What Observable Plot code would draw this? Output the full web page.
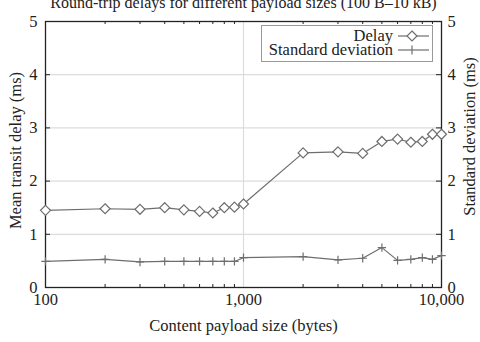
<!DOCTYPE html>
<html><head><meta charset="utf-8">
<script src="https://cdn.jsdelivr.net/npm/d3@7"></script>
<script src="https://cdn.jsdelivr.net/npm/@observablehq/plot@0.6"></script>
<style>
html,body{margin:0;padding:0;background:#fff;}
#wrap{position:relative;width:480px;height:342px;overflow:hidden;}
#legend{position:absolute;left:261px;top:25px;width:172px;height:37px;border:1px solid #999;background:#fff;font-family:"Liberation Serif";font-size:16.5px;color:#222;box-sizing:border-box;}
#legend .row{position:absolute;right:3px;height:14px;display:flex;align-items:center;}
#legend .row span{margin-right:5px;line-height:14px;}
</style></head>
<body>
<div id="wrap"><div id="chart"></div>
<div id="legend">
 <div class="row" style="top:3px"><span>Delay</span><svg width="31" height="12"><line x1="0" y1="6" x2="31" y2="6" stroke="#6e6e6e" stroke-width="1.2"/><path d="M14,1 L19,6 L14,11 L9,6 Z" fill="#fff" stroke="#6e6e6e" stroke-width="1.2"/></svg></div>
 <div class="row" style="top:17px"><span>Standard deviation</span><svg width="31" height="12"><line x1="0" y1="6" x2="31" y2="6" stroke="#6e6e6e" stroke-width="1.2"/><line x1="14" y1="1.5" x2="14" y2="10.5" stroke="#6e6e6e" stroke-width="1.2"/></svg></div>
</div>
</div>
<script>
const sizes = [100,200,300,400,500,600,700,800,900,1000,2000,3000,4000,5000,6000,7000,8000,9000,10000];
const delay = [1.45,1.48,1.47,1.50,1.46,1.43,1.40,1.50,1.51,1.57,2.53,2.55,2.52,2.745,2.79,2.73,2.745,2.88,2.88];
const stddev = [0.49,0.53,0.48,0.49,0.49,0.49,0.49,0.49,0.49,0.56,0.58,0.52,0.55,0.75,0.51,0.53,0.56,0.53,0.60];
const xTicks = [100,1000,10000];
const xMinor = [200,300,400,500,600,700,800,900,2000,3000,4000,5000,6000,7000,8000,9000];
const yTicks = [0,1,2,3,4,5];
const yInner = [1,2,3,4];
const title = "Round-trip delays for different payload sizes (100 B–10 kB)";
const xLabel = "Content payload size (bytes)";
const yLabel = "Mean transit delay (ms)";
const y2Label = "Standard deviation (ms)";

const rows = sizes.map((s,i)=>({size:s, delay:delay[i], sd:stddev[i]}));
const W=480,H=342,mL=45,mR=39,mT=21,mB=55;
const fw=W-mL-mR, fh=H-mT-mB;
const gray="#6e6e6e", ink="#222";

const chart = Plot.plot({
  width:W, height:H, marginLeft:mL, marginRight:mR, marginTop:mT, marginBottom:mB,
  style:{fontFamily:"Liberation Serif", fontSize:"16px", color:ink, background:"white", overflow:"visible"},
  x:{type:"log", domain:[100,10000]},
  y:{domain:[0,5]},
  marks:[
    Plot.gridY(yInner, {stroke:"#dcdcdc", strokeOpacity:1, strokeWidth:1.2}),
    Plot.gridX([1000], {stroke:"#dcdcdc", strokeOpacity:1, strokeWidth:1.2}),
    Plot.tickY(yInner, {y:d=>d, insetRight:fw-5, stroke:ink}),
    Plot.tickY(yInner, {y:d=>d, insetLeft:fw-5, stroke:ink}),
    Plot.tickX(xMinor, {x:d=>d, insetTop:fh-3, stroke:ink}),
    Plot.tickX(xMinor, {x:d=>d, insetBottom:fh-3, stroke:ink}),
    Plot.frame({stroke:ink, strokeWidth:1.3}),
    Plot.line(rows, {x:"size", y:"sd", stroke:gray, strokeWidth:1.2}),
    Plot.dot(rows, {x:"size", y:"sd", symbol:"plus", r:2.8, stroke:gray, strokeWidth:1.2}),
    Plot.line(rows, {x:"size", y:"delay", stroke:gray, strokeWidth:1.2}),
    Plot.dot(rows, {x:"size", y:"delay", symbol:"diamond2", r:4.5, fill:"white", stroke:gray, strokeWidth:1.2}),
    Plot.axisY(yTicks, {anchor:"left", tickSize:0, tickPadding:8, label:null, tickFormat:d=>String(d), fontSize:16.5}),
    Plot.axisY(yTicks, {anchor:"right", tickSize:0, tickPadding:6, label:null, tickFormat:d=>String(d), fontSize:16.5}),
    Plot.axisX(xTicks, {anchor:"bottom", tickSize:0, tickPadding:6, label:null, tickFormat:d3.format(","), fontSize:16.5}),
    Plot.text([title], {frameAnchor:"top", dy:-14, lineAnchor:"bottom", fontSize:16, fill:ink}),
    Plot.text([xLabel], {frameAnchor:"bottom", dy:38, lineAnchor:"middle", fontSize:16.5, fill:ink}),
    Plot.text([yLabel], {frameAnchor:"left", dx:-30, dy:-4, rotate:-90, textAnchor:"middle", lineAnchor:"middle", fontSize:16.5, fill:ink}),
    Plot.text([y2Label], {frameAnchor:"right", dx:28, dy:-18, rotate:-90, textAnchor:"middle", lineAnchor:"middle", fontSize:16.5, fill:ink})
  ]
});
document.getElementById("chart").appendChild(chart);
</script>
</body></html>
